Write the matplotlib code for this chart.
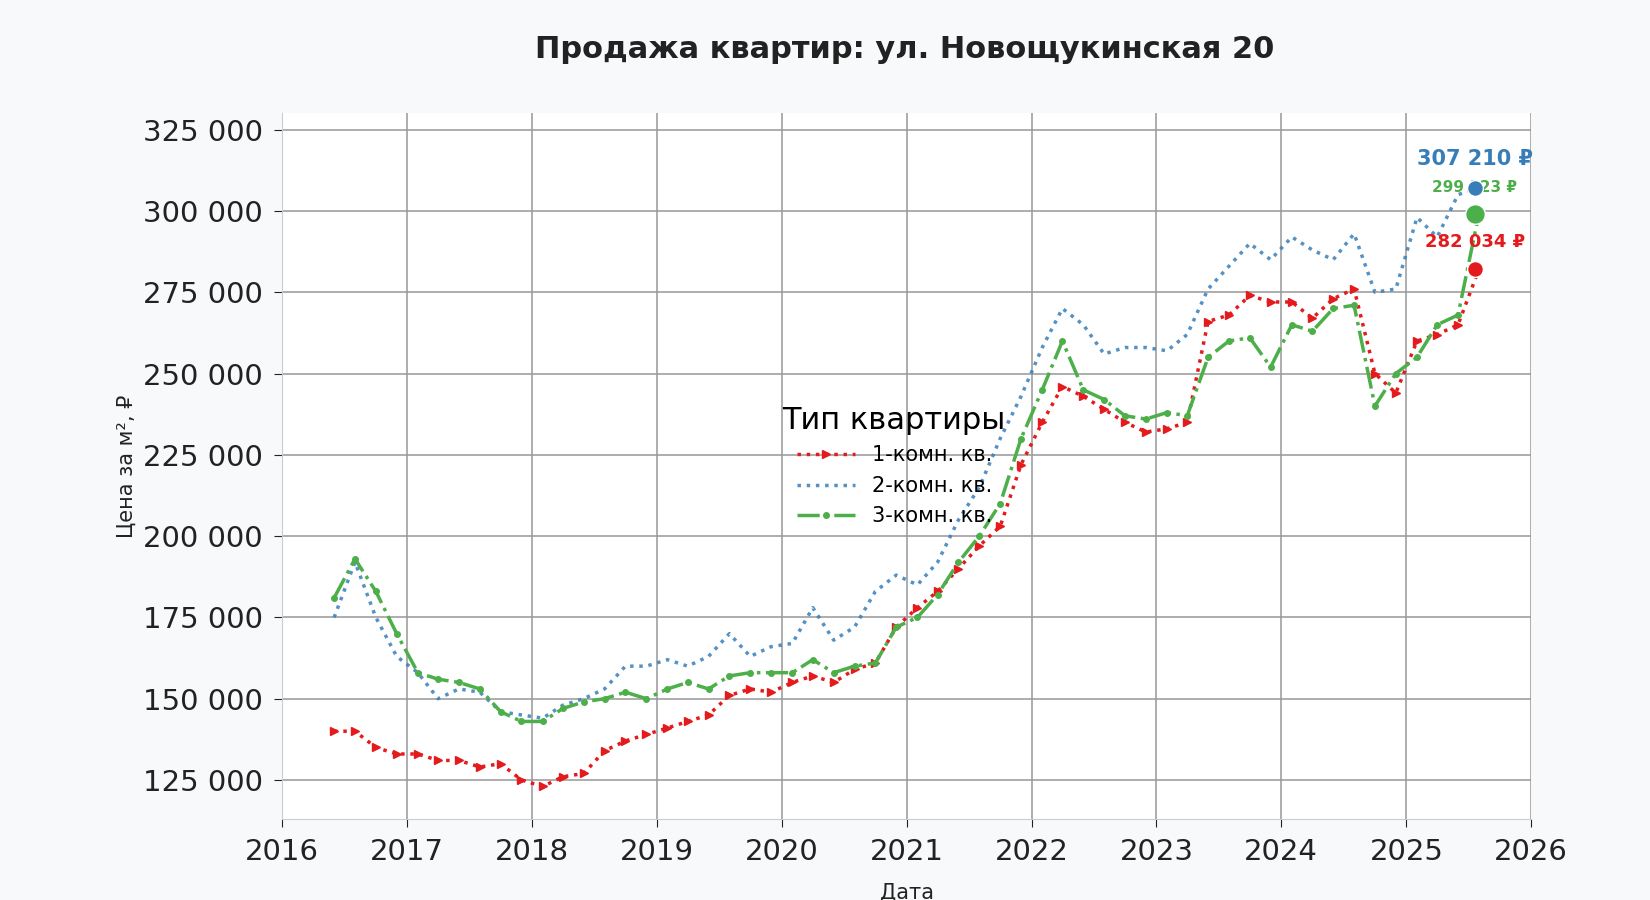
import matplotlib
matplotlib.use("Agg")
import matplotlib.pyplot as plt
import matplotlib.ticker as mticker
import pandas as pd

dates = pd.date_range("2016-06-01", "2025-08-01", freq="2MS")
room1 = [140000,140000,135000,133000,133000,131000,131000,129000,130000,125000,123000,126000,127000,134000,137000,139000,
         141000,143000,145000,151000,153000,152000,155000,157000,155000,159000,161000,172000,178000,183000,190000,197000,
         203000,222000,235000,246000,243000,239000,235000,232000,233000,235000,266000,268000,274000,272000,272000,267000,
         273000,276000,250000,244000,260000,262000,265000,282034]
room2 = [175000,192000,175000,163000,158000,150000,153000,152000,146000,145000,144000,148000,150000,153000,160000,160000,
         162000,160000,163000,170000,163000,166000,167000,178000,168000,172000,183000,188000,185000,192000,205000,215000,
         230000,243000,258000,270000,265000,256000,258000,258000,257000,262000,276000,283000,290000,285000,292000,288000,
         285000,293000,275000,276000,298000,292000,305000,307210]
room3 = [181000,193000,183000,170000,158000,156000,155000,153000,146000,143000,143000,147000,149000,150000,152000,150000,
         153000,155000,153000,157000,158000,158000,158000,162000,158000,160000,161000,172000,175000,182000,192000,200000,
         210000,230000,245000,260000,245000,242000,237000,236000,238000,237000,255000,260000,261000,252000,265000,263000,
         270000,271000,240000,250000,255000,265000,268000,299123]
labels = ["1-комн. кв.", "2-комн. кв.", "3-комн. кв."]
colors = ["#e41a1c", "#377eb8", "#4daf4a"]

fig = plt.figure(figsize=(16.5, 9), dpi=100, facecolor="#f8f9fb")
ax = fig.add_axes([0.171, 0.09, 0.757, 0.784])
ax.set_facecolor("white")

ax.plot(dates, room1, linestyle=":", marker=">", markersize=6, lw=2.5, color=colors[0], label=labels[0])
ax.plot(dates, room2, linestyle=":", lw=2.5, color=colors[1], alpha=0.85, label=labels[1])
ax.plot(dates, room3, linestyle="-.", marker="o", markersize=4, lw=2.5, color=colors[2], label=labels[2])

end = pd.Timestamp("2025-07-20")
for vals, c, off in zip([room1, room2, room3], colors, [16, 16, 16]):
    v = vals[-1]
    ax.scatter([end], [v], s=200 if c == colors[2] else 130, color=c, zorder=5, edgecolor="white")
    ax.annotate(f"{v:,}".replace(",", " ") + " ₽", (end, v), xytext=(0, off), textcoords="offset points",
                ha="center", color=c, fontweight="bold", fontsize=15 if c == colors[1] else (13 if c == colors[0] else 11))

ax.set_xlim(pd.Timestamp("2016-01-01"), pd.Timestamp("2026-01-01"))
ax.set_ylim(113000, 330000)
ax.yaxis.set_major_locator(mticker.MultipleLocator(25000))
ax.yaxis.set_major_formatter(mticker.FuncFormatter(lambda v, p: f"{int(v):,}".replace(",", " ")))
ax.xaxis.set_major_locator(matplotlib.dates.YearLocator())
ax.xaxis.set_major_formatter(matplotlib.dates.DateFormatter("%Y"))
ax.tick_params(labelsize=21, colors="#222222", length=6, pad=8)
ax.grid(True, color="#999999", lw=1.4, alpha=0.8)
for s in ["top", "right"]:
    ax.spines[s].set_visible(False)
for s in ["left", "bottom"]:
    ax.spines[s].set_color("#cccccc")
ax.set_xlabel("Дата", fontsize=15, color="#222222", labelpad=12)
ax.set_ylabel("Цена за м², ₽", fontsize=15, color="#222222")
fig.text(0.548, 0.945, "Продажа квартир: ул. Новощукинская 20", fontsize=22, fontweight="bold",
         color="#222222", ha="center", va="center")
leg = ax.legend(title="Тип квартиры", loc="center", bbox_to_anchor=(0.49, 0.5), frameon=False,
                fontsize=15, title_fontsize=22, handlelength=2.8)
fig.savefig("out.png", dpi=100, facecolor=fig.get_facecolor())
